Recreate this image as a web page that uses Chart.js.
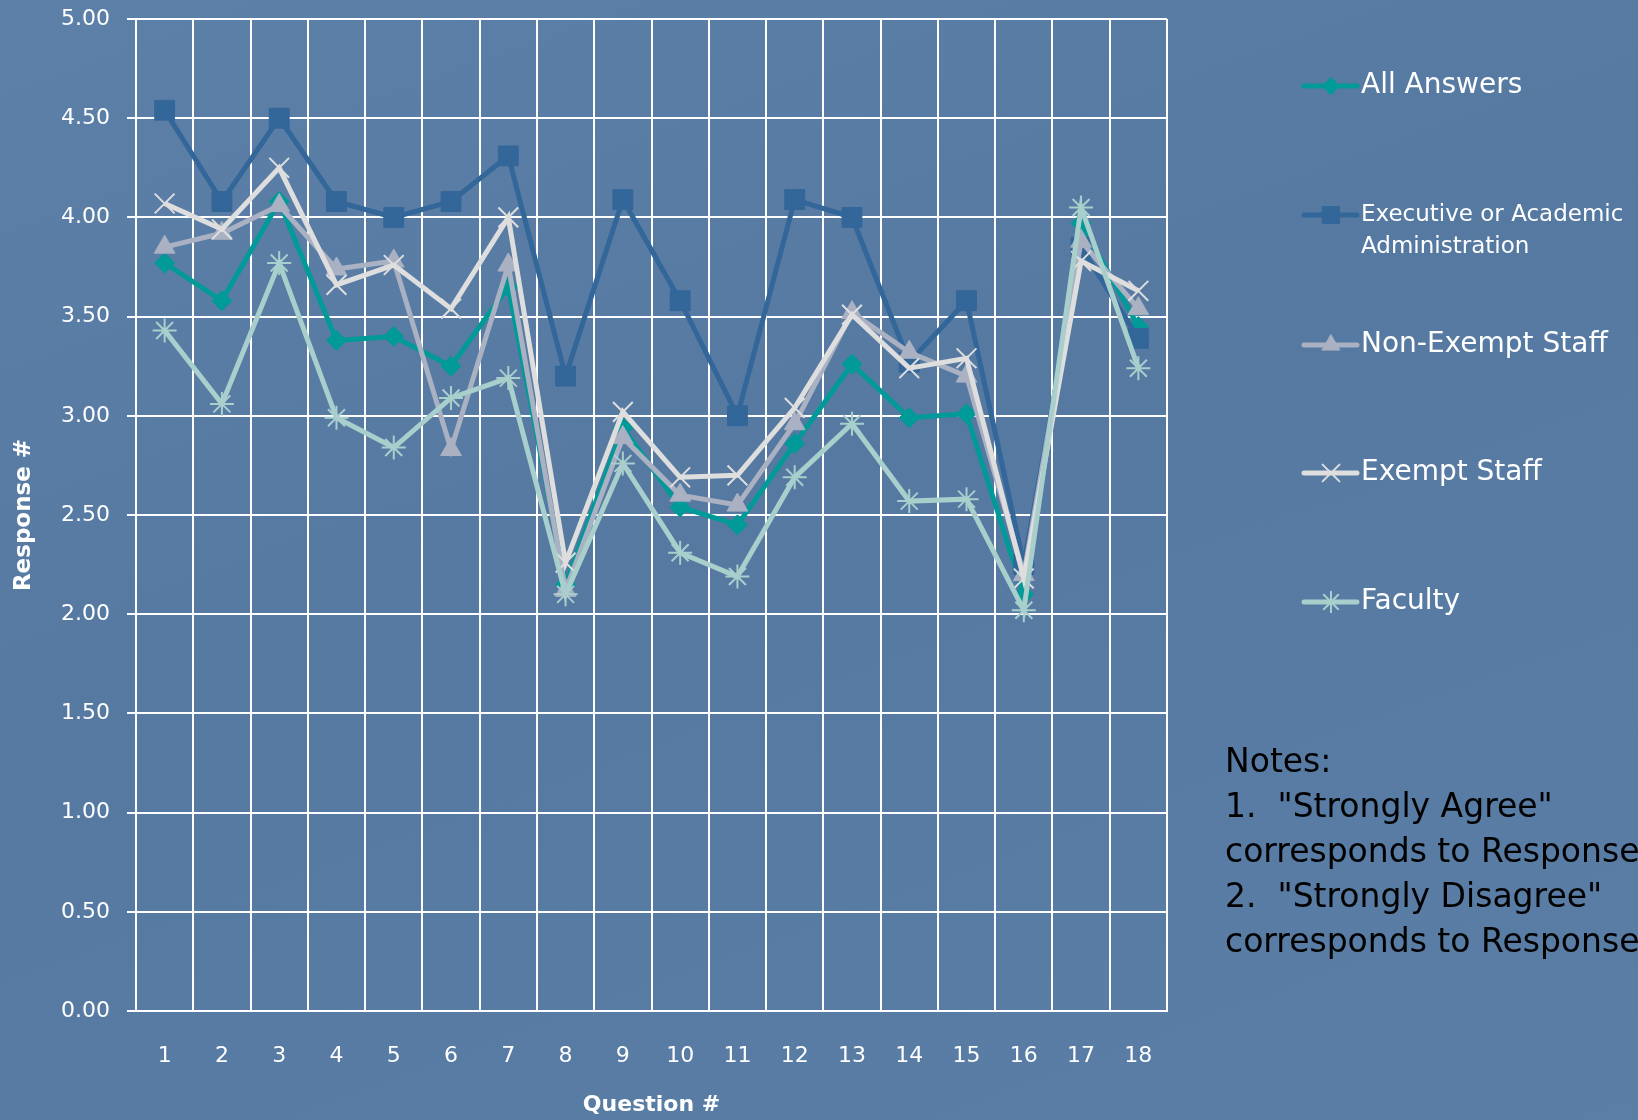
<!DOCTYPE html>
<html>
<head>
<meta charset="utf-8">
<script src="https://cdn.jsdelivr.net/npm/chart.js@4"></script>
<style>
  html, body { margin: 0; padding: 0; }
  body {
    width: 1638px; height: 1120px; overflow: hidden;
    background: linear-gradient(160deg, #5c80a8 0%, #5579a1 45%, #5a7ea6 100%);
    position: relative;
    font-family: "DejaVu Sans", Verdana, sans-serif;
  }
  #wrap { position: absolute; left: 0; top: 0; width: 1638px; height: 1120px; }
  #notes {
    position: absolute; left: 1225px; top: 738px;
    font-size: 33px; line-height: 45px; color: #000;
    white-space: nowrap;
  }
</style>
</head>
<body>
<div id="wrap"><canvas id="c" width="1638" height="1120"></canvas></div>
<div id="notes">Notes:<br>1.&nbsp; "Strongly Agree"<br>corresponds to Response<br>2.&nbsp; "Strongly Disagree"<br>corresponds to Response</div>
<script>
const questions = ["1","2","3","4","5","6","7","8","9","10","11","12","13","14","15","16","17","18"];
const seriesNames = ["All Answers", "Executive or Academic Administration", "Non-Exempt Staff", "Exempt Staff", "Faculty"];
const allAnswers = [3.77, 3.58, 4.08, 3.38, 3.40, 3.25, 3.65, 2.15, 2.94, 2.54, 2.45, 2.86, 3.26, 2.99, 3.01, 2.10, 3.97, 3.45];
const executive  = [4.54, 4.08, 4.50, 4.08, 4.00, 4.08, 4.31, 3.20, 4.09, 3.58, 3.00, 4.09, 4.00, 3.27, 3.58, 2.25, 3.85, 3.39];
const nonExempt  = [3.85, 3.92, 4.06, 3.74, 3.78, 2.83, 3.76, 2.12, 2.89, 2.60, 2.55, 2.96, 3.52, 3.32, 3.20, 2.20, 3.88, 3.54];
const exempt     = [4.07, 3.94, 4.25, 3.66, 3.76, 3.54, 4.00, 2.26, 3.02, 2.69, 2.70, 3.04, 3.51, 3.24, 3.29, 2.18, 3.78, 3.63];
const faculty    = [3.43, 3.06, 3.77, 2.99, 2.84, 3.09, 3.19, 2.10, 2.76, 2.31, 2.19, 2.69, 2.96, 2.57, 2.58, 2.02, 4.05, 3.24];
const yTicks = [0, 0.5, 1, 1.5, 2, 2.5, 3, 3.5, 4, 4.5, 5];

const styles = [
  { color: "#009a98", pointStyle: "rectRot", radius: 10, pbw: 1 },
  { color: "#336699", pointStyle: "rect", radius: 14, pbw: 1 },
  { color: "#a9b1c2", pointStyle: "triangle", radius: 12, pbw: 1 },
  { color: "#dedede", pointStyle: "crossRot", radius: 14, pbw: 2 },
  { color: "#a9cfcd", pointStyle: "star", radius: 12, pbw: 2 }
];
const seriesData = [allAnswers, executive, nonExempt, exempt, faculty];

const datasets = seriesData.map((d, i) => ({
  label: seriesNames[i],
  data: d,
  borderColor: styles[i].color,
  backgroundColor: styles[i].color,
  borderWidth: 5,
  pointStyle: styles[i].pointStyle,
  pointRadius: styles[i].radius,
  pointHoverRadius: styles[i].radius,
  pointBorderWidth: styles[i].pbw,
  pointBackgroundColor: styles[i].color,
  pointBorderColor: styles[i].color,
  tension: 0,
  order: 5 - i
}));

const legendPlugin = {
  id: "sideLegend",
  afterDraw(chart) {
    const ctx = chart.ctx;
    const ys = [86, 215, 345, 473, 602];
    ctx.save();
    chart.data.datasets.forEach((ds, i) => {
      const y = ys[i];
      ctx.strokeStyle = ds.borderColor;
      ctx.lineWidth = 5;
      ctx.lineCap = "round";
      ctx.beginPath();
      ctx.moveTo(1304, y);
      ctx.lineTo(1357, y);
      ctx.stroke();
      ctx.fillStyle = ds.backgroundColor;
      ctx.strokeStyle = ds.borderColor;
      ctx.lineWidth = ds.pointBorderWidth;
      Chart.helpers.drawPoint(ctx, { pointStyle: ds.pointStyle, radius: ds.pointRadius * 0.85, rotation: 0, borderWidth: ds.pointBorderWidth }, 1331, y);
      ctx.fillStyle = "#ffffff";
      ctx.textBaseline = "middle";
      ctx.textAlign = "left";
      if (i === 1) {
        ctx.font = '23px "DejaVu Sans", sans-serif';
        ctx.fillText("Executive or Academic", 1361, y);
        ctx.fillText("Administration", 1361, y + 32);
      } else {
        ctx.font = '28px "DejaVu Sans", sans-serif';
        ctx.fillText(ds.label, 1361, y);
      }
    });
    ctx.restore();
  }
};

new Chart(document.getElementById("c"), {
  type: "line",
  data: { labels: questions, datasets: datasets },
  options: {
    responsive: false,
    animation: false,
    devicePixelRatio: 1,
    layout: { padding: { top: 19, right: 471, left: 0, bottom: 0 } },
    plugins: { legend: { display: false }, tooltip: { enabled: false } },
    scales: {
      x: {
        offset: true,
        grid: { offset: true, color: "#ffffff", lineWidth: 2, drawTicks: false },
        border: { color: "#ffffff", width: 2 },
        ticks: { color: "#ffffff", font: { family: "DejaVu Sans", size: 22 }, padding: 32, maxRotation: 0, autoSkip: false },
        title: { display: true, text: "Question #", color: "#ffffff", font: { family: "DejaVu Sans", size: 22, weight: "bold" }, padding: { top: 0, bottom: 2 } },
        afterFit(s) { s.height = 109; s.paddingLeft = 0; s.paddingRight = 0; }
      },
      y: {
        min: 0, max: 5,
        afterBuildTicks(s) { s.ticks = yTicks.map(v => ({ value: v })); },
        grid: { color: "#ffffff", lineWidth: 2, drawTicks: true, tickLength: 9, tickColor: "#ffffff" },
        border: { color: "#ffffff", width: 2 },
        ticks: { color: "#ffffff", font: { family: "DejaVu Sans", size: 22 }, padding: 17, callback: v => Number(v).toFixed(2) },
        title: { display: true, text: "Response #", color: "#ffffff", font: { family: "DejaVu Sans", size: 23, weight: "bold" }, padding: { top: 10, bottom: 0 } },
        afterFit(s) { s.width = 136; s.paddingTop = 0; s.paddingBottom = 0; }
      }
    }
  },
  plugins: [legendPlugin]
});
</script>
</body>
</html>
